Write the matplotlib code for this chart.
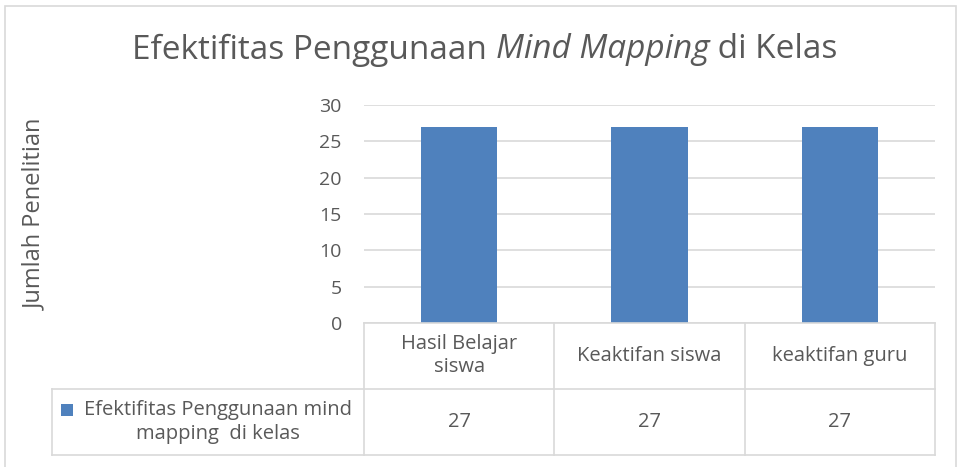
import matplotlib
matplotlib.use("Agg")
import matplotlib.pyplot as plt
from matplotlib.patches import Rectangle
from matplotlib.lines import Line2D
import matplotlib.transforms as mtransforms

categories = ["Hasil Belajar\nsiswa", "Keaktifan siswa", "keaktifan guru"]
values = [27, 27, 27]
series_name = "Efektifitas Penggunaan mind\nmapping  di kelas"
yticks = [0, 5, 10, 15, 20, 25, 30]

W, H = 962, 467
BLUE = "#4f81bd"
GRID = "#d9d9d9"
TXT = "#595959"
FONT = ["Open Sans", "DejaVu Sans"]
plt.rcParams["font.family"] = FONT

fig = plt.figure(figsize=(W / 100, H / 100), dpi=100)

def fx(px):
    return px / W

def fy(py):
    return 1 - py / H

# outer border
fig.patches.append(Rectangle((fx(5), fy(470)), fx(951), fy(6) - fy(470),
                             transform=fig.transFigure, fill=False,
                             edgecolor=GRID, linewidth=1.2))

ax_l, ax_r, ax_t, ax_b = 364, 935, 105, 323
ax = fig.add_axes([fx(ax_l), fy(ax_b), fx(ax_r - ax_l), fy(ax_t) - fy(ax_b)])
x = list(range(len(categories)))
ax.bar(x, values, width=0.4, color=BLUE, zorder=3)
ax.set_xlim(-0.5, len(categories) - 0.5)
ax.set_ylim(0, 30)
ax.set_yticks(yticks)
ax.set_yticklabels([str(t) for t in yticks], fontsize=14, color=TXT)
ax.set_xticks([])
ax.tick_params(axis="y", length=0, pad=16)
for s in ax.spines.values():
    s.set_visible(False)
ax.grid(axis="y", color=GRID, linewidth=1.2, zorder=0)

fig.text(fx(35), fy(214), "Jumlah Penelitian", rotation=90, ha="center",
         va="center", fontsize=17, color=TXT)

# title in pieces (regular / italic / regular), centered overall
renderer = fig.canvas.get_renderer()
tsize = 24
title_parts = [("Efektifitas Penggunaan ", "normal"), ("Mind Mapping", "italic"), (" di Kelas", "normal")]
pieces = []
for txt, style in title_parts:
    t = fig.text(0, fy(50), txt, fontsize=tsize, color=TXT, style=style,
                 va="center", ha="left")
    pieces.append(t)
widths = [p.get_window_extent(renderer).width for p in pieces]
total = sum(widths)
start = 485 - total / 2
for p, w in zip(pieces, widths):
    p.set_x(fx(start))
    start += w

# data table
trans = mtransforms.blended_transform_factory(ax.transData, fig.transFigure)
row1_b, row2_b = 389, 455
bounds = [i - 0.5 for i in range(len(categories) + 1)]
for b in bounds:
    fig.add_artist(Line2D([b, b], [fy(ax_b), fy(row2_b)], transform=trans,
                          color=GRID, linewidth=1.2))
fig.add_artist(Line2D([bounds[0], bounds[-1]], [fy(ax_b), fy(ax_b)], transform=trans,
                      color=GRID, linewidth=1.2))
for yy in [row1_b, row2_b]:
    fig.add_artist(Line2D([fx(52), fx(ax_r)], [fy(yy), fy(yy)], transform=fig.transFigure,
                          color=GRID, linewidth=1.2))
fig.add_artist(Line2D([fx(52), fx(52)], [fy(row1_b), fy(row2_b)], transform=fig.transFigure,
                      color=GRID, linewidth=1.2))

for i, (c, v) in enumerate(zip(categories, values)):
    fig.text(i, fy((ax_b + row1_b) / 2), c, transform=trans, ha="center", va="center",
             fontsize=14.5, color=TXT, linespacing=1.2)
    fig.text(i, fy((row1_b + row2_b) / 2), str(v), transform=trans, ha="center", va="center",
             fontsize=14.5, color=TXT)

fig.patches.append(Rectangle((fx(61), fy(416)), fx(12), fy(404) - fy(416),
                             transform=fig.transFigure, facecolor=BLUE, edgecolor="none"))
fig.text(fx(218), fy(422), series_name, ha="center", va="center", fontsize=14.5,
         color=TXT, linespacing=1.2)

fig.savefig("out.png", dpi=100)
